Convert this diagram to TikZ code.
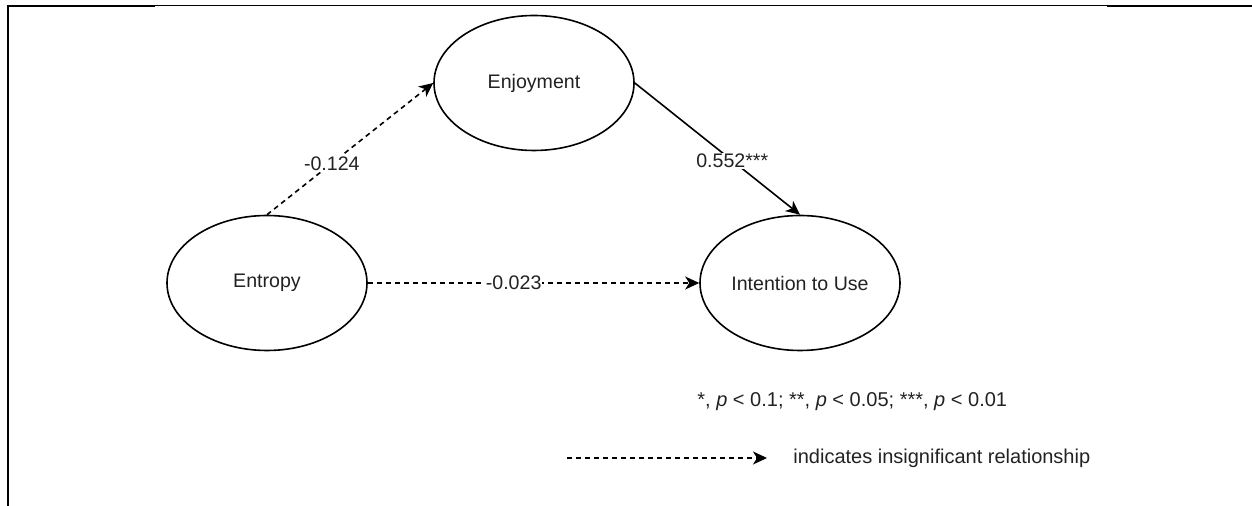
\documentclass[tikz,border=0pt]{standalone}
\usepackage{fontspec}
\setmainfont{Liberation Sans}
\usepackage{tikz}
\usetikzlibrary{arrows.meta,shapes.geometric}
\definecolor{PathInk}{HTML}{000000}
\definecolor{PathText}{HTML}{222222}

\begin{document}
\begin{tikzpicture}[
      x=0.5pt,y=-0.5pt,
      construct/.style={ellipse,draw=PathInk,line width=0.8pt,fill=white,
        minimum width=100pt,minimum height=67.5pt,inner sep=0pt,
        text=PathText,font=\fontsize{9.8}{12}\selectfont},
      sigedge/.style={-{Stealth[length=7pt,width=6.5pt,inset=2pt]},color=PathInk,line width=0.8pt},
      insigedge/.style={sigedge,dash pattern=on 2.5pt off 2pt},
      coef/.style={fill=white,inner sep=0.5pt,text=PathText,font=\fontsize{9.8}{12}\selectfont},
      legendtext/.style={anchor=west,inner sep=0pt,text=PathText,font=\fontsize{10}{12}\selectfont}
    ]
      \useasboundingbox (0,0) rectangle (1252,506);

      % table border left over from the source
      \draw[line width=1pt] (8,506) -- (8,6.5) -- (155,6.5);
      \draw[line width=0.5pt] (155,6) -- (1107,6);
      \draw[line width=1pt] (1107,6.5) -- (1252,6.5);

      \node[construct] (enjoy) at (534,83) {Enjoyment};
      \node[construct] (entropy) at (267,283) {Entropy};
      \node[construct] (intent) at (800,283) {Intention to Use};

      \draw[insigedge] (entropy.north) --
        node[coef,pos=0.39] {-0.124} (enjoy.west);
      \draw[sigedge] (enjoy.east) --
        node[coef,pos=0.59] {0.552***} (intent.north);
      \draw[insigedge] (entropy.east) --
        node[coef,pos=0.44] {-0.023} (intent.west);

      % legend
      \node[legendtext] (stars) at (697,402)
        {*, \textit{p} < 0.1; **, \textit{p} < 0.05; ***, \textit{p} < 0.01};
      \coordinate (keyfrom) at (567,458);
      \coordinate (keyto) at (767,458);
      \draw[insigedge] (keyfrom) -- (keyto);
      \node[legendtext] (keytext) at (793,458) {indicates insignificant relationship};
    \end{tikzpicture}
\end{document}
